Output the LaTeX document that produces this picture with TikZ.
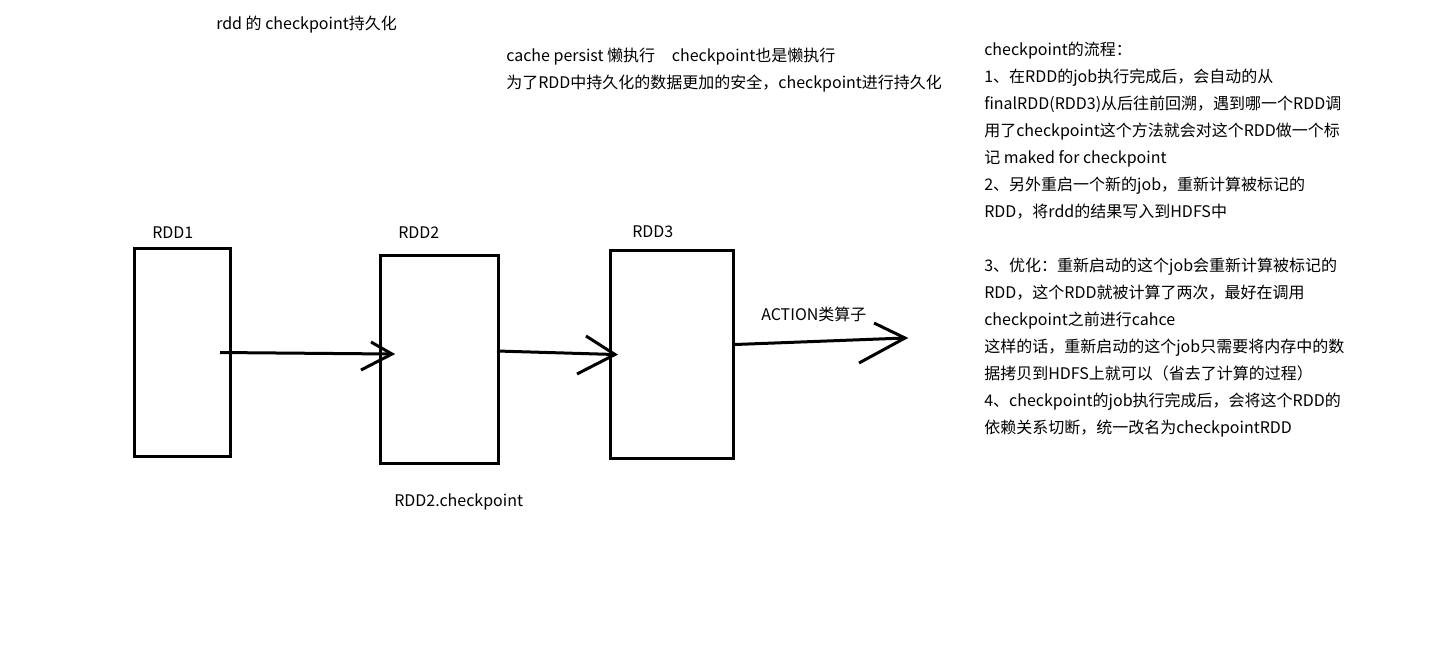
\documentclass[tikz,border=0pt]{standalone}
\usepackage{fontspec}
\setmainfont{Noto Sans CJK SC}
\begin{document}
\begin{tikzpicture}[x=0.75pt,y=-0.75pt,
  txt/.style={anchor=west,inner sep=0pt,yshift=-1.5pt,font=\fontsize{12pt}{14pt}\selectfont,text height=0.85em,text depth=0.15em},
  rddbox/.style={draw=black,line width=2.25pt,inner sep=0pt},
  hand/.style={draw=black,line width=2.25pt,line join=miter,line cap=butt}]
\fill[white] (0,0) rectangle (1452,662);
\useasboundingbox (0,0) rectangle (1452,662);
% titles
\node[txt] (title) at (216,23) {rdd 的 checkpoint持久化};
\node[txt] (n1) at (506,55) {cache persist 懒执行\hspace{1.05em}checkpoint也是懒执行};
\node[txt] (n2) at (506,82) {为了RDD中持久化的数据更加的安全，checkpoint进行持久化};
% right column
\node[txt] (r1) at (984,49) {checkpoint的流程：};
\node[txt] (r2) at (984,76) {1、在RDD的job执行完成后，会自动的从};
\node[txt] (r3) at (984,103) {finalRDD(RDD3)从后往前回溯，遇到哪一个RDD调};
\node[txt] (r4) at (984,130) {用了checkpoint这个方法就会对这个RDD做一个标};
\node[txt] (r5) at (984,157) {记 maked for checkpoint};
\node[txt] (r6) at (984,184) {2、另外重启一个新的job，重新计算被标记的};
\node[txt] (r7) at (984,211) {RDD，将rdd的结果写入到HDFS中};
\node[txt] (r8) at (984,265) {3、优化：重新启动的这个job会重新计算被标记的};
\node[txt] (r9) at (984,292) {RDD，这个RDD就被计算了两次，最好在调用};
\node[txt] (r10) at (984,319) {checkpoint之前进行cahce};
\node[txt] (r11) at (984,346) {这样的话，重新启动的这个job只需要将内存中的数};
\node[txt] (r12) at (984,373) {据拷贝到HDFS上就可以（省去了计算的过程）};
\node[txt] (r13) at (984,400) {4、checkpoint的job执行完成后，会将这个RDD的};
\node[txt] (r14) at (984,427) {依赖关系切断，统一改名为checkpointRDD};
% boxes
\node[rddbox,minimum width=72pt,minimum height=156pt] (rdd1) at (182,352) {};
\node[rddbox,minimum width=88.5pt,minimum height=156pt] (rdd2) at (439,359) {};
\node[rddbox,minimum width=92.25pt,minimum height=156pt] (rdd3) at (671.5,354) {};
\node[txt] (l1) at (152,232) {RDD1};
\node[txt] (l2) at (398,232) {RDD2};
\node[txt] (l3) at (632,231) {RDD3};
\node[txt] (cp) at (394,500) {RDD2.checkpoint};
\node[txt] (act) at (761,314) {ACTION类算子};
% arrow coordinates
\coordinate (a1s) at (220,352.5);
\coordinate (a1t) at (392,354);
\coordinate (a1u) at (371,342);
\coordinate (a1l) at (361,370);
\coordinate (a2s) at (497,351);
\coordinate (a2t) at (615,354.5);
\coordinate (a2u) at (586,336);
\coordinate (a2l) at (577,374);
\coordinate (a3s) at (735,344.5);
\coordinate (a3t) at (905,338);
\coordinate (a3u) at (874,323);
\coordinate (a3l) at (859,363);
% arrows
\draw[hand] (a1s) -- (a1t);
\draw[hand] (a1u) -- (a1t) -- (a1l);
\draw[hand] (a2s) -- (a2t);
\draw[hand] (a2u) -- (a2t) -- (a2l);
\draw[hand] (a3s) -- (a3t);
\draw[hand] (a3u) -- (a3t) -- (a3l);
\end{tikzpicture}
\end{document}
